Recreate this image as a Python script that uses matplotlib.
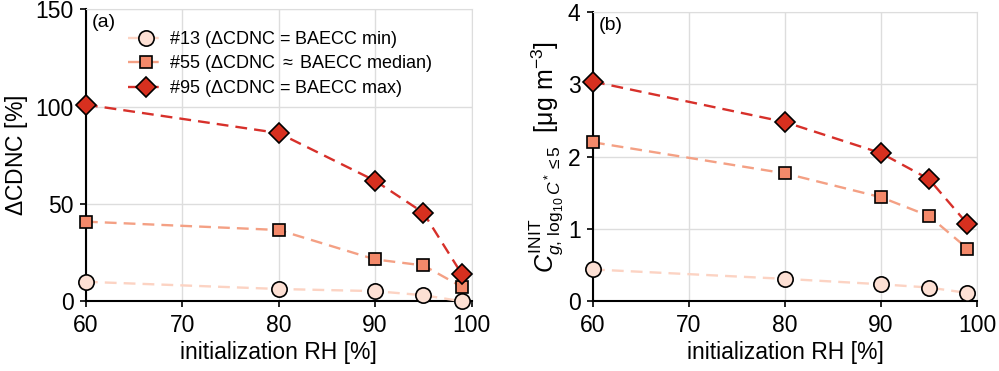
import matplotlib.pyplot as plt

plt.rcParams['font.family'] = ['Liberation Sans', 'DejaVu Sans']
plt.rcParams['mathtext.fontset'] = 'custom'
plt.rcParams['mathtext.rm'] = 'Liberation Sans'
plt.rcParams['mathtext.it'] = 'Liberation Sans:italic'

rh = [60, 80, 90, 95, 99]

# panel (a): delta CDNC [%]
dcdnc_13 = [10.0, 6.3, 5.2, 3.1, 0.0]
dcdnc_55 = [40.9, 36.6, 21.5, 18.4, 7.4]
dcdnc_95 = [101.0, 86.4, 61.9, 45.5, 13.9]

# panel (b): initial gas-phase concentration [ug m-3]
cg_13 = [0.44, 0.31, 0.235, 0.19, 0.115]
cg_55 = [2.2, 1.77, 1.44, 1.18, 0.73]
cg_95 = [3.04, 2.48, 2.05, 1.69, 1.07]

labels = [r"#13 ($\Delta$CDNC = BAECC min)",
          r"#55 ($\Delta$CDNC $\approx$ BAECC median)",
          r"#95 ($\Delta$CDNC = BAECC max)"]
markers = ["o", "s", "D"]
faces = ["#fde0d4", "#f4896a", "#d7301f"]
lines = ["#fcd3c3", "#f4a084", "#d7302a"]
msizes = [11, 9, 10]

fig = plt.figure(figsize=(9.99, 3.71), dpi=100)
ax1 = fig.add_axes([0.086, 0.188, 0.386, 0.787])
ax2 = fig.add_axes([0.5936, 0.188, 0.3844, 0.779])

for ax, series in [(ax1, [dcdnc_13, dcdnc_55, dcdnc_95]), (ax2, [cg_13, cg_55, cg_95])]:
    for i, y in enumerate(series):
        ax.plot(rh, y, linestyle="--", dashes=(5, 3), color=lines[i], lw=1.7,
                marker=markers[i], markerfacecolor=faces[i], markeredgecolor="black",
                markeredgewidth=1.2, markersize=msizes[i], label=labels[i],
                clip_on=False, zorder=3)
    ax.set_xlim(60, 100)
    ax.set_xticks([60, 70, 80, 90, 100])
    ax.grid(True, color="#dddddd", lw=1)
    ax.set_axisbelow(True)
    ax.spines["top"].set_color("#dddddd")
    ax.spines["right"].set_color("#dddddd")
    ax.spines["left"].set_linewidth(1.5)
    ax.spines["bottom"].set_linewidth(1.5)
    ax.tick_params(labelsize=16.5, direction="out", length=4, width=1.2, pad=5)
    ax.set_xlabel("initialization RH [%]", fontsize=16.5, labelpad=3)

ax1.set_ylim(0, 150)
ax1.set_yticks([0, 50, 100, 150])
ax1.set_ylabel(r"$\Delta$CDNC [%]", fontsize=16.5, labelpad=4)
ax1.text(0.015, 0.985, "(a)", transform=ax1.transAxes, fontsize=14, va="top")
ax1.legend(loc="upper left", bbox_to_anchor=(0.08, 0.97), frameon=False, fontsize=13,
           handlelength=2.0, handletextpad=0.3, labelspacing=0.2, borderaxespad=0.2)

ax2.set_ylim(0, 4)
ax2.set_yticks([0, 1, 2, 3, 4])
ax2.set_ylabel(r"$C^{\mathrm{INIT}}_{g,\,\log_{10}C^*\leq 5}$  [$\mathrm{\mu}$g m$^{-3}$]",
               fontsize=18, labelpad=2)
ax2.text(0.015, 0.985, "(b)", transform=ax2.transAxes, fontsize=14, va="top")

fig.savefig("out.png", dpi=100)
